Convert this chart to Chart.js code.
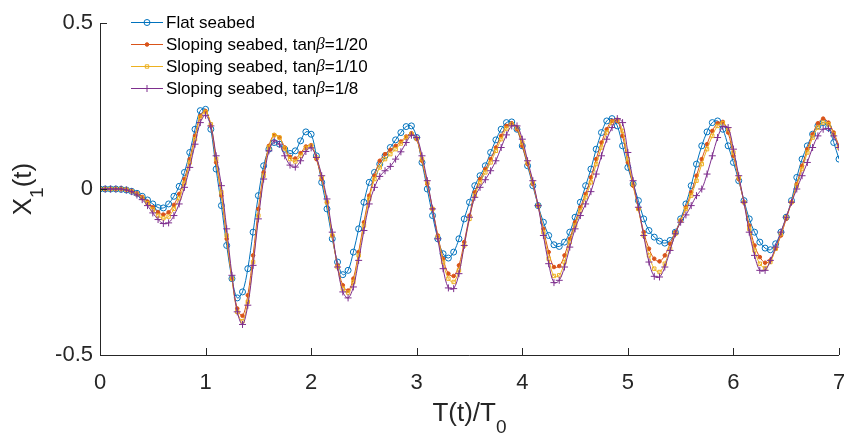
<!DOCTYPE html>
<html>
<head>
<meta charset="utf-8">
<script src="https://cdn.jsdelivr.net/npm/chart.js@4.4.1/dist/chart.umd.min.js"></script>
<style>
  html,body{margin:0;padding:0;background:#fff;}
  #wrap{width:844px;height:435px;}
</style>
</head>
<body>
<div id="wrap"><canvas id="c" width="844" height="435"></canvas></div>
<script>
// sample step of every series (T(t)/T0)
const dt = 0.05;
const xTicks = [0,1,2,3,4,5,6,7];
const yTicks = [-0.5,0,0.5];

// X1(t), one row = one period unit (20 samples)
const flat = [
  0,0,0,0,-0.001,-0.003,-0.007,-0.013,-0.022,-0.033,-0.045,-0.056,-0.057,-0.045,-0.022,0.008,0.05,0.11,0.18,0.236,
  0.24,0.18,0.06,-0.05,-0.17,-0.27,-0.328,-0.31,-0.24,-0.13,-0.02,0.07,0.12,0.14,0.135,0.12,0.107,0.115,0.145,0.172,
  0.165,0.1,0.02,-0.06,-0.15,-0.22,-0.258,-0.245,-0.19,-0.12,-0.04,0.02,0.05,0.075,0.1,0.125,0.148,0.17,0.188,0.19,
  0.155,0.08,0,-0.08,-0.15,-0.195,-0.208,-0.19,-0.15,-0.09,-0.04,0.01,0.04,0.07,0.11,0.148,0.18,0.2,0.202,0.18,
  0.13,0.07,0.01,-0.05,-0.1,-0.14,-0.168,-0.173,-0.16,-0.13,-0.085,-0.04,0.01,0.06,0.12,0.17,0.205,0.212,0.19,0.13,
  0.065,0.015,-0.035,-0.09,-0.125,-0.145,-0.157,-0.163,-0.155,-0.13,-0.09,-0.045,0.01,0.075,0.13,0.172,0.2,0.205,0.18,0.13,
  0.08,0.025,-0.035,-0.09,-0.13,-0.16,-0.178,-0.183,-0.165,-0.13,-0.085,-0.035,0.035,0.09,0.13,0.165,0.19,0.2,0.185,0.14,
  0.09
];
const slope20 = [
  0,0,0,0,0,-0.002,-0.006,-0.013,-0.024,-0.038,-0.055,-0.07,-0.077,-0.07,-0.048,-0.015,0.03,0.09,0.16,0.22,
  0.235,0.19,0.08,-0.02,-0.15,-0.27,-0.36,-0.382,-0.32,-0.2,-0.06,0.05,0.13,0.163,0.155,0.125,0.097,0.092,0.108,0.128,
  0.132,0.09,0.03,-0.04,-0.14,-0.23,-0.29,-0.306,-0.27,-0.19,-0.1,-0.02,0.04,0.085,0.105,0.118,0.13,0.143,0.158,0.168,
  0.15,0.085,0.015,-0.06,-0.14,-0.21,-0.255,-0.262,-0.23,-0.16,-0.08,-0.01,0.03,0.06,0.09,0.125,0.16,0.19,0.198,0.18,
  0.13,0.075,0.015,-0.05,-0.12,-0.19,-0.235,-0.232,-0.2,-0.15,-0.1,-0.055,-0.015,0.035,0.09,0.14,0.18,0.205,0.205,0.16,
  0.08,0.01,-0.06,-0.13,-0.18,-0.21,-0.218,-0.2,-0.165,-0.13,-0.095,-0.055,-0.01,0.04,0.09,0.135,0.175,0.198,0.202,0.17,
  0.1,0.03,-0.04,-0.11,-0.17,-0.205,-0.222,-0.215,-0.18,-0.14,-0.09,-0.04,0.015,0.07,0.12,0.165,0.198,0.212,0.2,0.17,
  0.13
];
const slope10 = [
  0,0,0,0,0,-0.002,-0.007,-0.015,-0.027,-0.043,-0.062,-0.08,-0.088,-0.083,-0.06,-0.028,0.018,0.08,0.15,0.215,
  0.232,0.195,0.09,-0.01,-0.14,-0.27,-0.37,-0.398,-0.34,-0.22,-0.08,0.04,0.125,0.162,0.155,0.122,0.09,0.083,0.1,0.124,
  0.13,0.095,0.035,-0.04,-0.14,-0.235,-0.3,-0.312,-0.28,-0.2,-0.11,-0.03,0.03,0.065,0.09,0.105,0.12,0.137,0.155,0.166,
  0.152,0.09,0.02,-0.06,-0.145,-0.22,-0.27,-0.28,-0.245,-0.17,-0.09,-0.02,0.02,0.05,0.08,0.115,0.15,0.182,0.195,0.185,
  0.14,0.08,0.02,-0.05,-0.13,-0.21,-0.262,-0.26,-0.22,-0.16,-0.11,-0.065,-0.025,0.02,0.075,0.125,0.17,0.2,0.208,0.175,
  0.09,0.015,-0.06,-0.14,-0.2,-0.24,-0.25,-0.225,-0.18,-0.135,-0.095,-0.06,-0.02,0.025,0.075,0.12,0.16,0.19,0.198,0.18,
  0.11,0.035,-0.04,-0.12,-0.185,-0.225,-0.238,-0.22,-0.18,-0.135,-0.085,-0.04,0.01,0.06,0.11,0.155,0.185,0.2,0.195,0.165,
  0.125
];
const slope8 = [
  0,0,0,0,0,-0.003,-0.008,-0.018,-0.032,-0.05,-0.072,-0.092,-0.104,-0.102,-0.08,-0.045,0.005,0.065,0.135,0.2,
  0.222,0.19,0.1,0.01,-0.12,-0.26,-0.37,-0.408,-0.35,-0.23,-0.09,0.03,0.115,0.145,0.135,0.1,0.072,0.066,0.085,0.113,
  0.124,0.095,0.04,-0.03,-0.13,-0.235,-0.31,-0.328,-0.295,-0.215,-0.125,-0.045,0.005,0.038,0.055,0.068,0.09,0.112,0.14,0.162,
  0.155,0.1,0.025,-0.06,-0.15,-0.24,-0.298,-0.3,-0.255,-0.17,-0.085,-0.025,0.005,0.028,0.055,0.085,0.125,0.163,0.19,0.19,
  0.15,0.085,0.025,-0.05,-0.14,-0.225,-0.282,-0.275,-0.235,-0.175,-0.12,-0.08,-0.045,-0.008,0.045,0.1,0.15,0.185,0.212,0.2,
  0.11,0.025,-0.055,-0.14,-0.22,-0.263,-0.265,-0.235,-0.185,-0.135,-0.1,-0.078,-0.05,-0.02,0,0.045,0.1,0.155,0.188,0.185,
  0.12,0.04,-0.04,-0.13,-0.2,-0.245,-0.245,-0.215,-0.175,-0.13,-0.085,-0.04,0,0.04,0.08,0.125,0.16,0.18,0.182,0.16,
  0.125
];

const legendLabels = [
  ['Flat seabed', ''],
  ['Sloping seabed, tan', '=1/20'],
  ['Sloping seabed, tan', '=1/10'],
  ['Sloping seabed, tan', '=1/8']
];
const colors = ['#0072BD','#D95319','#EDB120','#7E2F8E'];

const FONT = "'Liberation Sans', Arial, Helvetica, sans-serif";
Chart.defaults.font.family = FONT;

function toPoints(vals){
  return vals.map((v,i)=>({x: +(i*dt).toFixed(2), y: v}));
}

// marker look per series (MATLAB o . s +)
const markers = [
  {pointStyle:'circle', pointRadius:3, pointBorderWidth:1, fill:'rgba(0,0,0,0)'},
  {pointStyle:'circle', pointRadius:1.8, pointBorderWidth:1, fill:colors[1]},
  {pointStyle:'rect', pointRadius:2.4, pointBorderWidth:1, fill:'rgba(0,0,0,0)'},
  {pointStyle:'cross', pointRadius:3.5, pointBorderWidth:1, fill:'rgba(0,0,0,0)'}
];

const allSeries = [flat, slope20, slope10, slope8];
const datasets = allSeries.map((s,i)=>({
  label: legendLabels[i].join('β'),
  data: toPoints(s),
  borderColor: colors[i],
  borderWidth: 1,
  tension: 0.35,
  pointStyle: markers[i].pointStyle,
  pointRadius: markers[i].pointRadius,
  pointBorderWidth: markers[i].pointBorderWidth,
  pointBorderColor: colors[i],
  pointBackgroundColor: markers[i].fill,
  order: 4 - i   // last series drawn on top, like MATLAB
}));

// axes box (left+bottom), inward ticks, axis titles and the legend
const matlabDecor = {
  id: 'matlabDecor',
  afterDraw(chart){
    const {ctx, chartArea:a, scales:{x, y}} = chart;
    ctx.save();
    ctx.strokeStyle = '#262626';
    ctx.lineWidth = 1;
    ctx.beginPath();
    ctx.moveTo(a.left+0.5, a.top);
    ctx.lineTo(a.left+0.5, a.bottom+0.5);
    ctx.lineTo(a.right, a.bottom+0.5);
    xTicks.forEach(v=>{
      const px = Math.round(x.getPixelForValue(v))+0.5;
      ctx.moveTo(px, a.bottom); ctx.lineTo(px, a.bottom-7);
    });
    yTicks.forEach(v=>{
      const py = Math.round(y.getPixelForValue(v))+0.5;
      ctx.moveTo(a.left, py); ctx.lineTo(a.left+7, py);
    });
    ctx.stroke();

    // axis titles with subscripts
    ctx.fillStyle = '#262626';
    ctx.textBaseline = 'alphabetic';
    const main = '26px '+FONT, sub = '19px '+FONT;
    function titled(parts){ // parts: [text, isSub]
      let w = 0;
      parts.forEach(p=>{ ctx.font = p[1]?sub:main; p.w = ctx.measureText(p[0]).width; w += p.w; });
      return w;
    }
    const xt = [['T(t)/T',false],['0',true]];
    let w = titled(xt);
    let cx = (a.left+a.right)/2 - w/2;
    xt.forEach(p=>{ ctx.font = p[1]?sub:main; ctx.fillText(p[0], cx, p[1]?433:421); cx += p.w; });

    const yt = [['X',false],['1',true],['(t)',false]];
    w = titled(yt);
    ctx.save();
    ctx.translate(31, (a.top+a.bottom)/2);
    ctx.rotate(-Math.PI/2);
    cx = -w/2;
    yt.forEach(p=>{ ctx.font = p[1]?sub:main; ctx.fillText(p[0], cx, p[1]?12:0); cx += p.w; });
    ctx.restore();

    // legend
    const rowY = [22, 44, 66, 88];
    ctx.textBaseline = 'middle';
    legendLabels.forEach((lab,i)=>{
      const yy = rowY[i];
      ctx.strokeStyle = colors[i];
      ctx.lineWidth = 1;
      ctx.beginPath(); ctx.moveTo(131, yy+0.5); ctx.lineTo(163, yy+0.5); ctx.stroke();
      ctx.fillStyle = markers[i].fill;
      Chart.helpers.drawPoint(ctx, {pointStyle:markers[i].pointStyle, radius:markers[i].pointRadius, borderWidth:1, rotation:0}, 147, yy+0.5);
      ctx.fillStyle = '#000';
      let tx = 166;
      ctx.font = '17px '+FONT;
      ctx.fillText(lab[0], tx, yy+1);
      if (lab[1]) {
        tx += ctx.measureText(lab[0]).width;
        ctx.font = "italic 17px 'Liberation Serif', 'DejaVu Serif', serif";
        ctx.fillText('β', tx, yy+1);
        tx += ctx.measureText('β').width;
        ctx.font = '17px '+FONT;
        ctx.fillText(lab[1], tx, yy+1);
      }
    });
    ctx.restore();
  }
};

new Chart(document.getElementById('c'), {
  type: 'line',
  data: { datasets },
  options: {
    responsive: false,
    animation: false,
    devicePixelRatio: 1,
    layout: { padding: { top: 23, right: 3, left: 0, bottom: 0 } },
    plugins: { legend: { display: false }, tooltip: { enabled: false } },
    scales: {
      x: {
        type: 'linear', min: 0, max: 7,
        grid: { display: false, drawTicks: false },
        border: { display: false },
        afterBuildTicks: s => { s.ticks = xTicks.map(v=>({value:v})); },
        afterFit: s => { s.height = 80; s.paddingLeft = 0; s.paddingRight = 0; },
        ticks: { font: { size: 22 }, color: '#262626', padding: 15, maxRotation: 0 }
      },
      y: {
        type: 'linear', min: -0.5, max: 0.5,
        grid: { display: false, drawTicks: false },
        border: { display: false },
        afterBuildTicks: s => { s.ticks = yTicks.map(v=>({value:v})); },
        afterFit: s => { s.width = 100; s.paddingTop = 0; s.paddingBottom = 0; },
        ticks: { font: { size: 22 }, color: '#262626', padding: 7 }
      }
    }
  },
  plugins: [matlabDecor]
});
</script>
</body>
</html>
